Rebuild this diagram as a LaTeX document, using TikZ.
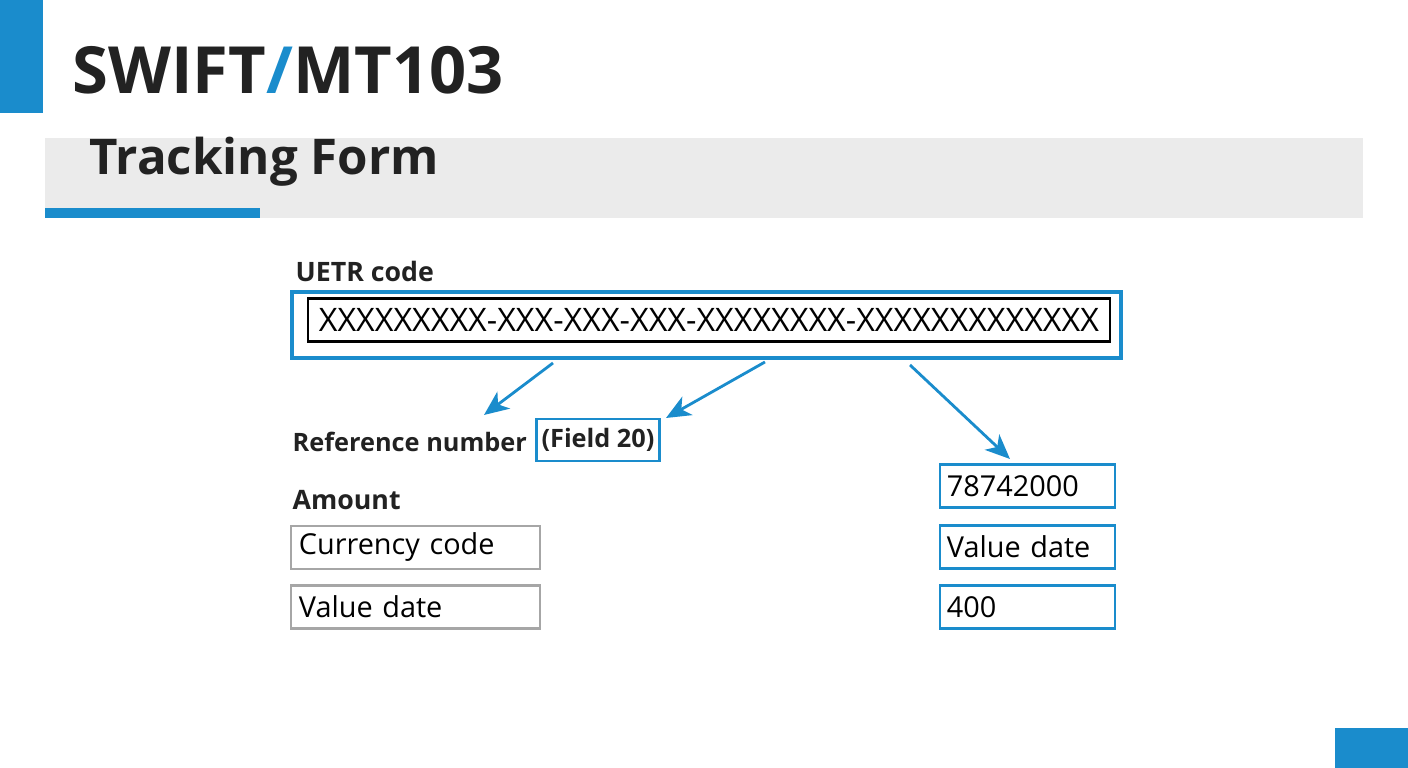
\documentclass[tikz,border=0pt]{standalone}
\usepackage{fontspec}
\setmainfont{Open Sans}
\usetikzlibrary{arrows.meta,positioning}
\definecolor{swiftblue}{HTML}{1A8CCC}
\definecolor{bandgray}{HTML}{EBEBEB}
\definecolor{inkgray}{HTML}{222222}
\tikzset{
    field/.style = {
        draw = gray!70,
        thick,
        minimum width=2.49cm,
        minimum height=0.43cm,
        inner sep=0pt,
        text width=2.33cm,
        align=left,
        font=\fontsize{8.2}{10}\selectfont,
        },
    blue field/.style = {
        field,
        draw = swiftblue,
        minimum width=1.75cm,
        text width=1.61cm,
        },
    label/.style = {
        anchor=west,
        inner sep=0pt,
        text=inkgray,
        font=\fontsize{7.6}{10}\selectfont\bfseries,
        },
    pointer/.style = {
        draw=swiftblue,
        thick,
        -{Stealth[length=7pt,width=6pt,inset=2pt]},
        },
}
\begin{document}
\begin{tikzpicture}[x=0.01cm,y=-0.01cm]
            \useasboundingbox (0,0) rectangle (1408,768);
            % header
            \fill[swiftblue] (0,0) rectangle (43,113);
            \node[label, font=\fontsize{18.5}{22}\selectfont\bfseries] (title) at (72,70)
                {SWIFT\textcolor{swiftblue}{/}MT103};
            \fill[bandgray] (45,138) rectangle (1363,218);
            \fill[swiftblue] (45,208) rectangle (260,218);
            \node[label, font=\fontsize{14}{18}\selectfont\bfseries] (sub) at (89,162) {Tracking Form};

            % UETR
            \node[label] (uetrlabel) at (295,271) {UETR code};
            \node[draw=swiftblue, very thick, minimum width=8.29cm, minimum height=0.66cm] (uetr) at (706.5,325) {};
            \node[draw=black, semithick, minimum width=8.02cm, minimum height=0.43cm, inner sep=0pt,
                  font=\fontsize{9.2}{10}\selectfont] (code) at (709,320)
                {XXXXXXXXX-XXX-XXX-XXX-XXXXXXXX-XXXXXXXXXXXXX};

            % fields
            \node[label, font=\fontsize{7.2}{10}\selectfont\bfseries] (ref) at (292,442) {Reference number};
            \node[draw=swiftblue, thick, inner sep=1.5pt, minimum height=0.42cm, text=inkgray,
                  font=\fontsize{7.2}{10}\selectfont\bfseries] (field20) at (598,440) {(Field 20)};
            \node[label] (amount) at (292,500) {Amount};
            \node[field] (currency) at (415.5,547.5) {Currency code};
            \node[field] (vdate) at (415.5,607) {Value date};
            \node[blue field] (num) at (1027.5,486) {78742000};
            \node[blue field] (vdate2) at (1027.5,547) {Value date};
            \node[blue field] (qty) at (1027.5,607) {400};

            % arrows
            \coordinate (a1) at (553,363);
            \coordinate (a2) at (765,362);
            \coordinate (a3) at (910,365);
            \coordinate (t1) at (484,415);
            \coordinate (t2) at (666,418);
            \coordinate (t3) at (1010,459);
            \draw[pointer] (a1) -- (t1);
            \draw[pointer] (a2) -- (t2);
            \draw[pointer] (a3) -- (t3);

            \fill[swiftblue] (1335,728) rectangle (1408,768);
\end{tikzpicture}
\end{document}
